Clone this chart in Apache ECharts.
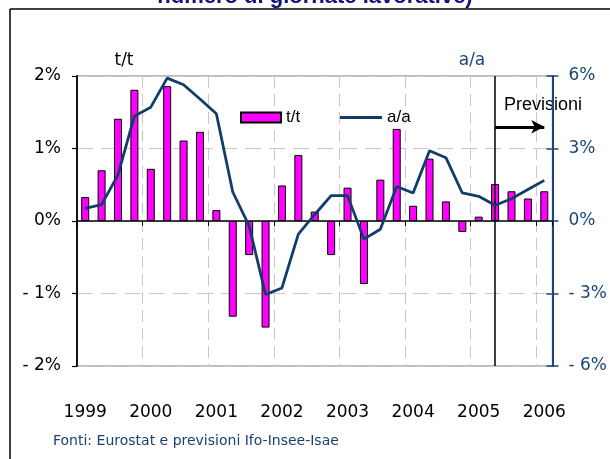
<!DOCTYPE html>
<html>
<head>
<meta charset="utf-8">
<script src="https://cdn.jsdelivr.net/npm/echarts@6/dist/echarts.min.js"></script>
<style>
html,body{margin:0;padding:0;background:#fff;}
#c{width:610px;height:459px;}
</style>
</head>
<body>
<div id="c"></div>
<script>
// Quarterly categories 1999 T1 .. 2006 T1
const categories = [
  '1999 T1','1999 T2','1999 T3','1999 T4',
  '2000 T1','2000 T2','2000 T3','2000 T4',
  '2001 T1','2001 T2','2001 T3','2001 T4',
  '2002 T1','2002 T2','2002 T3','2002 T4',
  '2003 T1','2003 T2','2003 T3','2003 T4',
  '2004 T1','2004 T2','2004 T3','2004 T4',
  '2005 T1','2005 T2','2005 T3','2005 T4',
  '2006 T1'
];
// t/t (quarter on quarter, %), left axis
const ttValues = [0.33,0.70,1.41,1.81, 0.72,1.86,1.11,1.23, 0.15,-1.32,-0.47,-1.47,
                  0.49,0.91,0.13,-0.47, 0.46,-0.87,0.57,1.27, 0.21,0.86,0.27,-0.15,
                  0.06,0.51,0.41,0.31, 0.41];
// a/a (year on year, %), right axis
const aaValues = [0.52,0.68,1.91,4.34, 4.71,5.91,5.64,5.05, 4.44,1.20,-0.20,-3.04,
                  -2.77,-0.54,0.27,1.05, 1.05,-0.75,-0.34,1.43, 1.16,2.91,2.62,1.16,
                  1.02,0.65,0.92,1.30, 1.68];
const leftTicks = {min:-2, max:2, interval:1};
const rightTicks = {min:-6, max:6, interval:3};
const forecastStart = '2005 T2';
const arrowEnd = '2006 T1';
const arrowLevel = 1.3;

const navy = '#1b4676';
const lineNavy = '#123d6b';
const pct = v => (v < 0 ? '- ' + (-v) : '' + v) + '%';

const chart = echarts.init(document.getElementById('c'));
chart.setOption({
  animation: false,
  grid: {left:77, right:55, top:76, bottom:93, show:true, borderColor:'#a8a8a8', borderWidth:1.5},
  legend: [
    {data:['t/t'], left:240, top:109, padding:0, itemWidth:40, itemHeight:10, icon:'rect',
     textStyle:{fontSize:17, fontFamily:'Liberation Sans', color:'#000'}},
    {data:[{name:'a/a', icon:'rect'}], left:340, top:109, padding:0, itemWidth:42, itemHeight:3,
     itemStyle:{color:lineNavy, borderWidth:0},
     textStyle:{fontSize:17, fontFamily:'Liberation Sans', color:'#000'}}
  ],
  xAxis: [
    {type:'category', data:categories, position:'bottom',
     axisLine:{onZero:true, lineStyle:{color:'#000', width:1.5}},
     axisTick:{show:true, interval:(i)=>i%4===0, length:5, lineStyle:{color:'#000', width:1}},
     axisLabel:{show:false},
     splitLine:{show:true, interval:(i)=>i%4===0, lineStyle:{color:'#c8c8c8', type:[12,6], width:1}}},
    {type:'category', data:categories, position:'bottom',
     axisLine:{show:false, onZero:false}, axisTick:{show:false},
     axisLabel:{interval:(i)=>i%4===0, formatter:v=>v.slice(0,4), margin:38,
                fontSize:17, color:'#000', fontFamily:'DejaVu Sans'},
     splitLine:{show:false}}
  ],
  yAxis: [
    {type:'value', position:'left', ...leftTicks,
     axisLine:{show:true, lineStyle:{color:'#000', width:1.8}},
     axisTick:{show:true, length:5, lineStyle:{color:'#000', width:1.2}},
     axisLabel:{formatter:pct, margin:16, fontSize:17, color:'#000', fontFamily:'DejaVu Sans'},
     splitLine:{show:true, lineStyle:{color:'#c8c8c8', type:[16,8], width:1}}},
    {type:'value', position:'right', ...rightTicks,
     axisLine:{show:true, lineStyle:{color:navy, width:2}},
     axisTick:{show:true, length:6, lineStyle:{color:navy, width:1.5}},
     axisLabel:{formatter:pct, margin:16, fontSize:17, color:navy, fontFamily:'DejaVu Sans'},
     splitLine:{show:false}},
    {type:'value', position:'right', ...rightTicks,
     axisLine:{show:false},
     axisTick:{show:true, inside:true, length:6, lineStyle:{color:navy, width:1.5}},
     axisLabel:{show:false}, splitLine:{show:false}}
  ],
  series: [
    {type:'bar', name:'t/t', data:ttValues, xAxisIndex:0, yAxisIndex:0, barWidth:8,
     itemStyle:{color:'#ff00ff', borderColor:'#000', borderWidth:1},
     markLine:{silent:true, symbol:'none', label:{show:false}, animation:false,
       data:[
         {xAxis:forecastStart, lineStyle:{color:'#000', width:1.5, type:'solid'}},
         [{coord:[forecastStart, arrowLevel], symbol:'none', lineStyle:{color:'#000', width:3, type:'solid'}},
          {coord:[arrowEnd, arrowLevel], symbol:'arrow', symbolSize:[10,13]}]
       ]}},
    {type:'line', name:'a/a', data:aaValues, xAxisIndex:0, yAxisIndex:1, symbol:'none', z:5,
     lineStyle:{color:lineNavy, width:2.8}, itemStyle:{color:lineNavy}}
  ],
  graphic: [
    {type:'line', shape:{x1:10, y1:9, x2:610, y2:9}, style:{stroke:'#000', lineWidth:1.5}},
    {type:'line', shape:{x1:10, y1:9, x2:10, y2:459}, style:{stroke:'#000', lineWidth:1.5}},
    {type:'text', x:315, y:8, style:{text:'numero di giornate lavorative)', align:'center', verticalAlign:'bottom',
      font:'bold 22px "Liberation Sans"', fill:'#141478'}},
    {type:'text', x:124, y:61, style:{text:'t/t', align:'center', verticalAlign:'middle',
      font:'17px "DejaVu Sans"', fill:'#000'}},
    {type:'text', x:472, y:61, style:{text:'a/a', align:'center', verticalAlign:'middle',
      font:'17px "DejaVu Sans"', fill:navy}},
    {type:'text', x:504, y:105, style:{text:'Previsioni', align:'left', verticalAlign:'middle',
      font:'18px "Liberation Sans"', fill:'#000'}},
    {type:'text', x:53, y:441, style:{text:'Fonti: Eurostat e previsioni Ifo-Insee-Isae', align:'left', verticalAlign:'middle',
      font:'14px "DejaVu Sans"', fill:'#1c3f74'}}
  ]
});
</script>
</body>
</html>
